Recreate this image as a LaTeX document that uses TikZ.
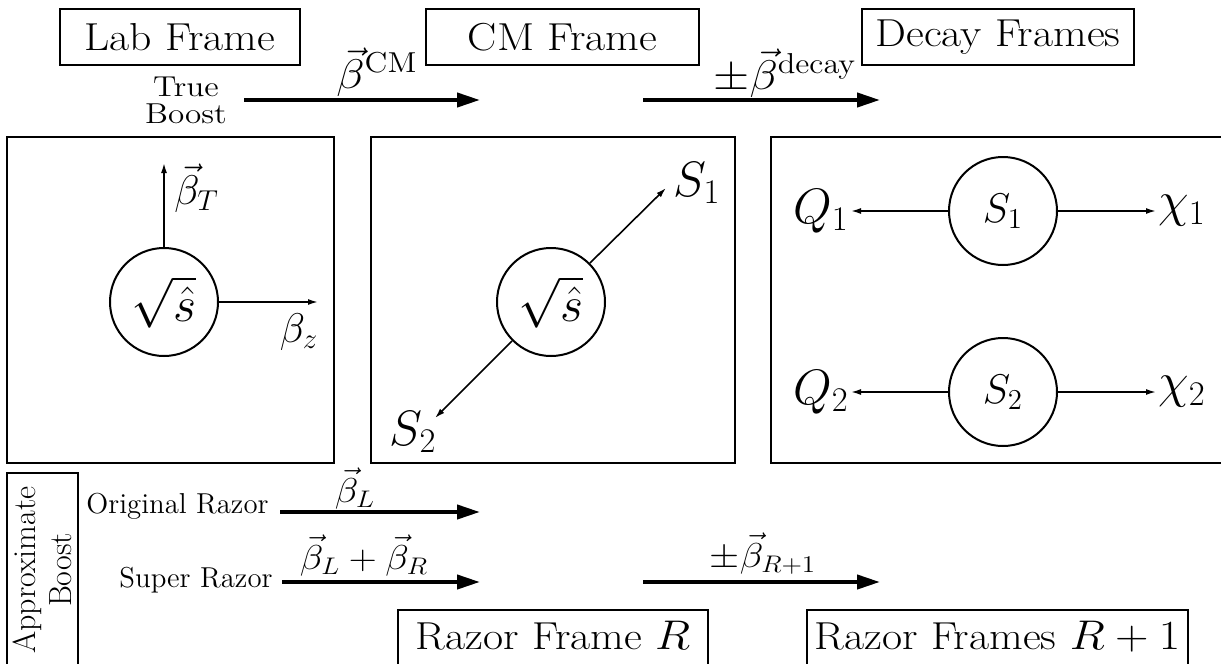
\documentclass[tikz,border=0pt]{standalone}
\usepackage{graphicx}
\usetikzlibrary{arrows.meta}
\newcommand{\stretchx}[1]{\scalebox{1.12}[1]{#1}}
\begin{document}
\begin{tikzpicture}[x=0.5pt,y=-0.5pt,
  framebox/.style={draw,line width=1pt,minimum height=28pt,inner sep=0pt,font=\fontsize{19.5}{23}\selectfont},
  panel/.style={draw,line width=1.2pt,inner sep=0pt},
  ball/.style={draw,circle,line width=1pt,minimum size=54pt,inner sep=0pt,font=\fontsize{22}{26}\selectfont},
  mathlab/.style={font=\huge,inner sep=1pt},
  biglab/.style={font=\fontsize{24.8}{28}\selectfont,inner sep=1pt},
  toplab/.style={font=\huge,inner sep=1pt},
  lowlab/.style={font=\fontsize{18}{22}\selectfont,inner sep=1pt},
  boostarrow/.style={line width=2pt,-{Triangle[length=11.5pt,width=7pt]}},
  thinarrow/.style={line width=0.8pt,-{Latex[length=5pt,width=3pt]}},
  smalltext/.style={font=\Large,inner sep=0pt}]
\useasboundingbox (0,0) rectangle (1221,664);
\clip (0,0) rectangle (1221,664);
\fill[white] (0,0) rectangle (1221,664);

% top frame labels
\node[framebox,minimum width=120pt] (lab) at (180,37) {\stretchx{Lab Frame}};
\node[framebox,minimum width=136.5pt] (cm) at (562.5,37) {\stretchx{CM Frame}};
\node[framebox,minimum width=136pt] (decay) at (998,37) {\stretchx{Decay Frames}};

% true boost arrows
\node[align=center,inner sep=0pt,font=\fontsize{14.4}{13.5}\selectfont] (trueboost) at (186,100) {\scalebox{1.15}[1]{True}\\\scalebox{1.15}[1]{Boost}};
\coordinate (a1s) at (244,100);
\coordinate (a1e) at (480,100);
\draw[boostarrow] (a1s) -- (a1e);
\node[toplab,anchor=base] (lcm) at (377,88) {\stretchx{$\vec{\beta}^{\mathrm{CM}}$}};
\coordinate (a2s) at (643,100);
\coordinate (a2e) at (880,100);
\draw[boostarrow] (a2s) -- (a2e);
\node[toplab,anchor=base] (ldecay) at (785,89) {\stretchx{$\pm\vec{\beta}^{\mathrm{decay}}$}};

% panels
\node[panel,minimum width=163.5pt,minimum height=163pt] (labpanel) at (170.5,300) {};
\node[panel,minimum width=182pt,minimum height=163pt] (cmpanel) at (553,300) {};
\node[panel,minimum width=240pt,minimum height=163pt,anchor=west] (decaypanel) at (770,300) {};

% lab panel
\node[ball,font=\fontsize{23.5}{27}\selectfont] (labc) at (164,302) {$\sqrt{\hat{s}}$};
\coordinate (bt) at (164,163);
\coordinate (bz) at (318,302);
\draw[thinarrow] (labc.north) -- (bt);
\draw[thinarrow] (labc.east) -- (bz);
\node[mathlab,anchor=west] (btlab) at (172,188) {$\vec{\beta}_T$};
\node[mathlab] (bzlab) at (299,332) {$\beta_z$};

% cm panel
\node[ball,font=\fontsize{23.5}{27}\selectfont] (cmc) at (551,302) {$\sqrt{\hat{s}}$};
\coordinate (s1tip) at (666,188);
\coordinate (s2tip) at (435,418);
\draw[thinarrow] (cmc.45) -- (s1tip);
\draw[thinarrow] (cmc.225) -- (s2tip);
\node[biglab] (s1lab) at (697,183) {$S_1$};
\node[biglab] (s2lab) at (413,432) {$S_2$};

% decay panel
\node[ball] (s1c) at (1003,211) {$S_1$};
\node[ball] (s2c) at (1003,392) {$S_2$};
\node[biglab,anchor=east] (q1) at (851,211) {$Q_1$};
\node[biglab,anchor=west] (x1) at (1156,211) {$\chi_1$};
\node[biglab,anchor=east] (q2) at (851,392) {$Q_2$};
\node[biglab,anchor=west] (x2) at (1156,392) {$\chi_2$};
\draw[thinarrow] (s1c) -- (q1);
\draw[thinarrow] (s1c) -- (x1);
\draw[thinarrow] (s2c) -- (q2);
\draw[thinarrow] (s2c) -- (x2);

% approximate boost
\node[panel,minimum width=35.5pt,minimum height=113.5pt] (approxbox) at (42.5,586.5) {};
\node[rotate=90,align=center,font=\fontsize{16}{18}\selectfont,inner sep=0pt] (approx) at (42,570) {Approximate\\Boost};

\node[smalltext,anchor=base east] (orig) at (269,513) {Original Razor};
\coordinate (b1s) at (280,512);
\coordinate (b1e) at (480,512);
\draw[boostarrow] (b1s) -- (b1e);
\node[lowlab,anchor=base] (lbl) at (355,502) {\stretchx{$\vec{\beta}_L$}};

\node[smalltext,anchor=base east] (super) at (273,587) {Super Razor};
\coordinate (b2s) at (282,582);
\coordinate (b2e) at (480,582);
\draw[boostarrow] (b2s) -- (b2e);
\node[lowlab,anchor=base] (lblr) at (364,569) {\stretchx{$\vec{\beta}_L+\vec{\beta}_R$}};

\coordinate (b3s) at (643,582);
\coordinate (b3e) at (880,582);
\draw[boostarrow] (b3s) -- (b3e);
\node[lowlab,anchor=base] (lbr1) at (763,567) {\stretchx{$\pm\vec{\beta}_{R+1}$}};

% razor frames
\node[draw,line width=1pt,anchor=north,minimum width=155pt,inner xsep=0pt,inner ysep=0pt,text height=19.5pt,text depth=12pt,font=\fontsize{19.5}{23}\selectfont] (rzR) at (553,609) {\stretchx{Razor Frame $R$}};
\node[draw,line width=1pt,anchor=north,minimum width=190.5pt,inner xsep=0pt,inner ysep=0pt,text height=19.5pt,text depth=12pt,font=\fontsize{19.5}{23}\selectfont] (rzR1) at (997.5,609) {\stretchx{Razor Frames $R+1$}};
\end{tikzpicture}
\end{document}
